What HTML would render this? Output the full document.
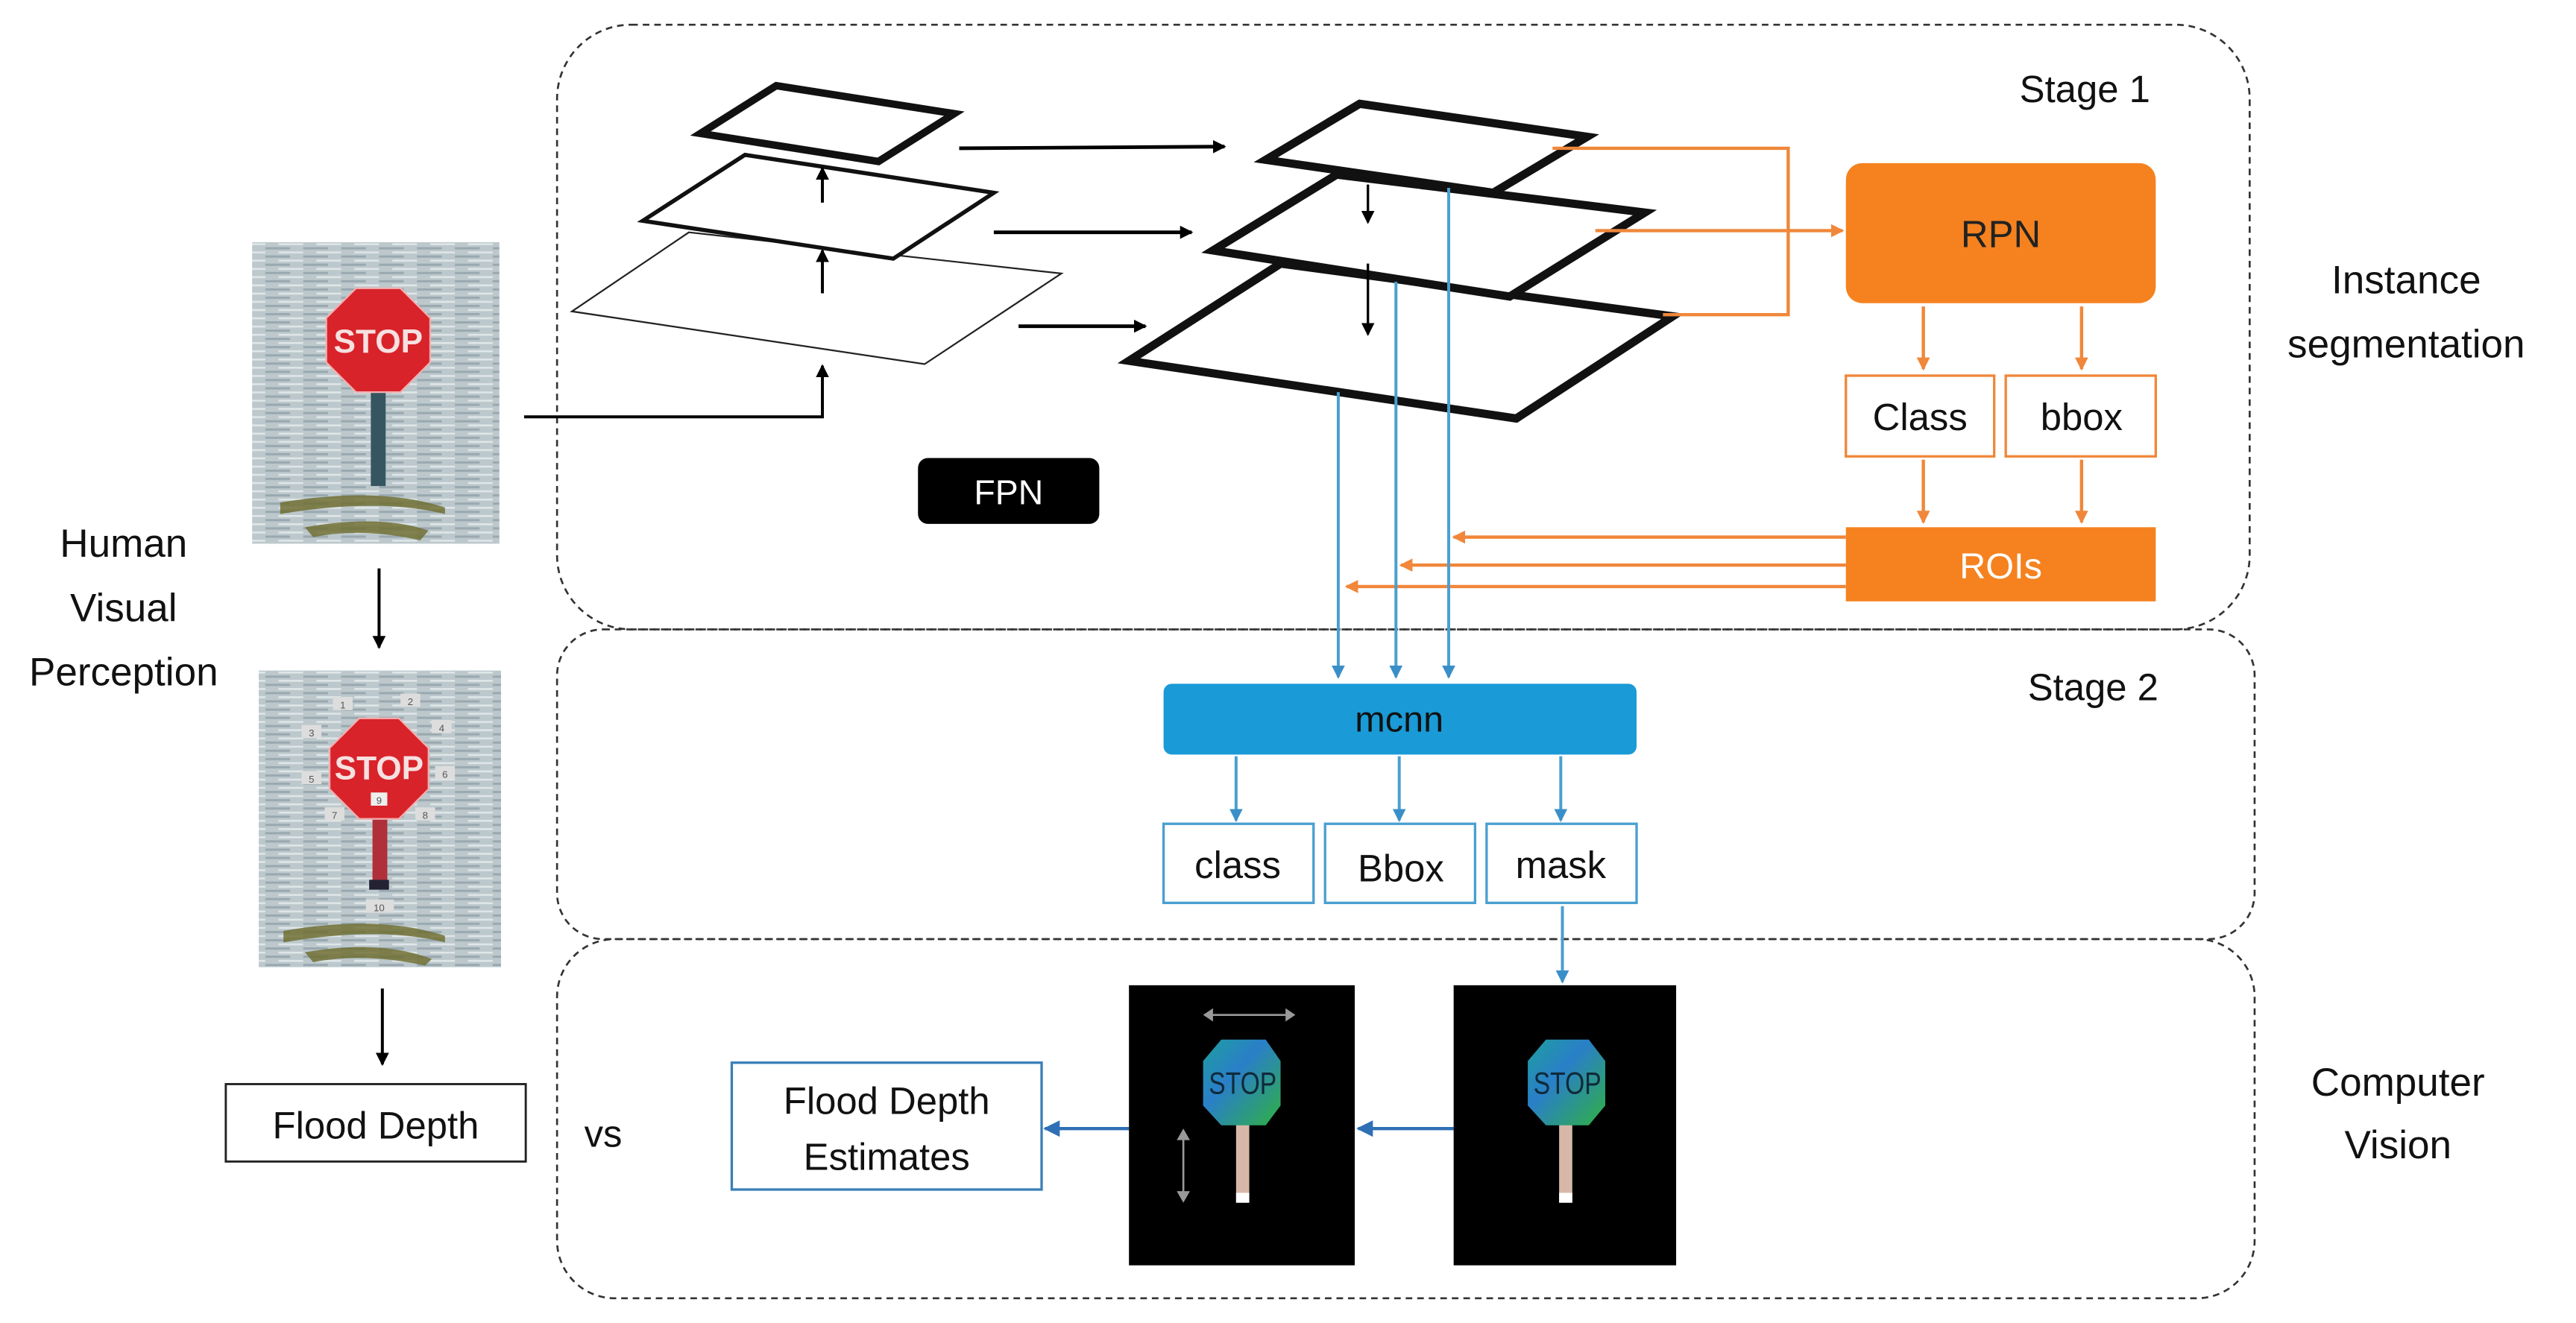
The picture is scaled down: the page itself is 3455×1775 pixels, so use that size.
<!DOCTYPE html>
<html><head><meta charset="utf-8"><style>
html,body{margin:0;padding:0;background:#fff;}
svg{display:block;}
text{font-family:"Liberation Sans",sans-serif;}
</style></head><body>
<svg width="3455" height="1775" viewBox="0 0 1563 803" preserveAspectRatio="none" xmlns="http://www.w3.org/2000/svg">
<defs>
<marker id="ak" markerWidth="8" markerHeight="8" refX="7" refY="4" orient="auto" markerUnits="userSpaceOnUse"><path d="M0,0 L8,4 L0,8 z" fill="#000"/></marker>
<marker id="ao" markerWidth="8" markerHeight="8" refX="7" refY="4" orient="auto" markerUnits="userSpaceOnUse"><path d="M0,0 L8,4 L0,8 z" fill="#f0873a"/></marker>
<marker id="ab" markerWidth="8" markerHeight="8" refX="7" refY="4" orient="auto" markerUnits="userSpaceOnUse"><path d="M0,0 L8,4 L0,8 z" fill="#3a8fc8"/></marker>
<marker id="abd" markerWidth="10" markerHeight="10" refX="9" refY="5" orient="auto" markerUnits="userSpaceOnUse"><path d="M0,0 L10,5 L0,10 z" fill="#2f6fb5"/></marker>
<pattern id="water" width="23" height="5" patternUnits="userSpaceOnUse">
<rect width="23" height="5" fill="#bcc8cc"/><rect y="0" width="15" height="1.4" fill="#9aa9b0"/><rect x="8" y="2.6" width="15" height="1.2" fill="#dfe6e8"/>
</pattern>
<linearGradient id="gs" x1="0" y1="0" x2="1" y2="1"><stop offset="0" stop-color="#1e9e9e"/><stop offset="0.4" stop-color="#2a7fc8"/><stop offset="1" stop-color="#2fb043"/></linearGradient>
</defs>

<g fill="none" stroke="#333" stroke-width="1.2" stroke-dasharray="4,3">
<rect x="338" y="15" width="1027" height="367" rx="45"/>
<rect x="338" y="382" width="1030" height="188" rx="28"/>
<rect x="338" y="570" width="1030" height="218" rx="35"/>
</g>
<text x="1265" y="62" font-size="23" text-anchor="middle" fill="#111">Stage 1</text>
<text x="1270" y="425" font-size="23" text-anchor="middle" fill="#111">Stage 2</text>
<text x="1460" y="178" font-size="24" text-anchor="middle" fill="#111">Instance</text>
<text x="1460" y="217" font-size="24" text-anchor="middle" fill="#111">segmentation</text>
<text x="1455" y="665" font-size="24" text-anchor="middle" fill="#111">Computer</text>
<text x="1455" y="703" font-size="24" text-anchor="middle" fill="#111">Vision</text>
<text x="75" y="338" font-size="24" text-anchor="middle" fill="#111">Human</text>
<text x="75" y="377" font-size="24" text-anchor="middle" fill="#111">Visual</text>
<text x="75" y="416" font-size="24" text-anchor="middle" fill="#111">Perception</text>

<rect x="153" y="147" width="150" height="183" fill="url(#water)"/>
<path d="M170,305 Q230,295 270,308 L270,312 Q230,302 170,312 z M185,320 Q230,312 260,322 L255,328 Q220,320 190,326z" fill="#6b6a2a" opacity="0.8"/>
<rect x="225" y="235" width="9" height="60" fill="#355660"/>
<polygon points="216,175 243,175 261,193 261,220 243,238 216,238 198,220 198,193" fill="#d8232a" stroke="#f2b0b0" stroke-width="1"/>
<text x="229.5" y="214" font-size="20" font-weight="bold" text-anchor="middle" fill="#f7e0e0">STOP</text>

<rect x="157" y="407" width="147" height="180" fill="url(#water)"/>
<path d="M172,565 Q230,555 270,568 L270,572 Q230,562 172,572 z M185,578 Q230,570 262,582 L258,586 Q220,578 190,584z" fill="#6b6a2a" opacity="0.8"/>
<rect x="226" y="490" width="9" height="45" fill="#b0303a"/>
<rect x="224" y="534" width="12" height="6" fill="#223"/>
<polygon points="218,436 242,436 260,454 260,479 242,497 218,497 200,479 200,454" fill="#d8232a" stroke="#f2b0b0" stroke-width="1"/>
<text x="230" y="473" font-size="20" font-weight="bold" text-anchor="middle" fill="#f7e0e0">STOP</text>
<g font-size="6" fill="#555" text-anchor="middle">
<rect x="202" y="423" width="12" height="8" fill="#ddd"/><text x="208" y="430">1</text>
<rect x="243" y="421" width="12" height="8" fill="#ddd"/><text x="249" y="428">2</text>
<rect x="183" y="440" width="12" height="8" fill="#ddd"/><text x="189" y="447">3</text>
<rect x="262" y="437" width="12" height="8" fill="#ddd"/><text x="268" y="444">4</text>
<rect x="183" y="468" width="12" height="8" fill="#ddd"/><text x="189" y="475">5</text>
<rect x="264" y="465" width="12" height="8" fill="#ddd"/><text x="270" y="472">6</text>
<rect x="197" y="490" width="12" height="8" fill="#ddd"/><text x="203" y="497">7</text>
<rect x="252" y="490" width="12" height="8" fill="#ddd"/><text x="258" y="497">8</text>
<rect x="225" y="481" width="10" height="8" fill="#eee"/><text x="230" y="488">9</text>
<rect x="222" y="546" width="17" height="8" fill="#ddd"/><text x="230" y="553">10</text>
</g>

<line x1="230" y1="345" x2="230" y2="393" stroke="#000" stroke-width="1.8" marker-end="url(#ak)"/>
<line x1="232" y1="600" x2="232" y2="646" stroke="#000" stroke-width="1.8" marker-end="url(#ak)"/>
<rect x="137" y="658" width="182" height="47" fill="#fff" stroke="#222" stroke-width="1.3"/>
<text x="228" y="691" font-size="23" text-anchor="middle" fill="#111">Flood Depth</text>
<text x="366" y="696" font-size="23" text-anchor="middle" fill="#111">vs</text>

<polygon points="418,141 644,166 561,221 347,189" fill="#fff" stroke="#222" stroke-width="1"/>
<polygon points="452,94 603,117 542,157 390,134" fill="#fff" stroke="#111" stroke-width="2.5"/>
<polygon points="471,52 579,69 533,98 425,81" fill="#fff" stroke="#111" stroke-width="4.5"/>
<g stroke="#000" stroke-width="1.8" fill="none">
<line x1="499" y1="123" x2="499" y2="102" marker-end="url(#ak)"/>
<line x1="499" y1="178" x2="499" y2="152" marker-end="url(#ak)"/>
<polyline points="318,253 499,253 499,222" marker-end="url(#ak)"/>
<line x1="582" y1="90" x2="743" y2="89" stroke-width="2.2" marker-end="url(#ak)"/>
<line x1="603" y1="141" x2="723" y2="141" stroke-width="2.2" marker-end="url(#ak)"/>
<line x1="618" y1="198" x2="695" y2="198" stroke-width="2.2" marker-end="url(#ak)"/>
</g>

<polygon points="777,160 1015,192 920,254 685,219" fill="#fff" stroke="#111" stroke-width="5"/>
<polygon points="811,106 998,129 916,180 736,152" fill="#fff" stroke="#111" stroke-width="5"/>
<polygon points="825,63 963,83 906,117 768,97" fill="#fff" stroke="#111" stroke-width="5"/>
<line x1="830" y1="112" x2="830" y2="135" stroke="#000" stroke-width="1.5" marker-end="url(#ak)"/>
<line x1="830" y1="160" x2="830" y2="203" stroke="#000" stroke-width="1.5" marker-end="url(#ak)"/>

<rect x="557" y="278" width="110" height="40" rx="6" fill="#000"/>
<text x="612" y="306" font-size="21" text-anchor="middle" fill="#fff">FPN</text>

<g stroke="#f0873a" stroke-width="2" fill="none">
<polyline points="942,90 1085,90 1085,191 1009,191"/>
<line x1="968" y1="140" x2="1085" y2="140"/>
<line x1="1085" y1="140" x2="1118" y2="140" marker-end="url(#ao)"/>
<line x1="1167" y1="186" x2="1167" y2="224" marker-end="url(#ao)"/>
<line x1="1263" y1="186" x2="1263" y2="224" marker-end="url(#ao)"/>
<line x1="1167" y1="279" x2="1167" y2="317" marker-end="url(#ao)"/>
<line x1="1263" y1="279" x2="1263" y2="317" marker-end="url(#ao)"/>
<line x1="1120" y1="326" x2="882" y2="326" marker-end="url(#ao)"/>
<line x1="1120" y1="343" x2="850" y2="343" marker-end="url(#ao)"/>
<line x1="1120" y1="356" x2="817" y2="356" marker-end="url(#ao)"/>
</g>
<rect x="1120" y="99" width="188" height="85" rx="10" fill="#f5821f"/>
<text x="1214" y="150" font-size="23" text-anchor="middle" fill="#222">RPN</text>
<rect x="1120" y="228" width="90" height="49" fill="#fff" stroke="#f0873a" stroke-width="1.5"/>
<text x="1165" y="261" font-size="23" text-anchor="middle" fill="#111">Class</text>
<rect x="1217" y="228" width="91" height="49" fill="#fff" stroke="#f0873a" stroke-width="1.5"/>
<text x="1263" y="261" font-size="23" text-anchor="middle" fill="#111">bbox</text>
<rect x="1120" y="320" width="188" height="45" fill="#f5821f"/>
<text x="1214" y="351" font-size="22" text-anchor="middle" fill="#fff">ROIs</text>

<g stroke="#4a9fd0" stroke-width="1.8" fill="none">
<line x1="812" y1="238" x2="812" y2="411" marker-end="url(#ab)"/>
<line x1="847" y1="171" x2="847" y2="411" marker-end="url(#ab)"/>
<line x1="879" y1="114" x2="879" y2="411" marker-end="url(#ab)"/>
<line x1="750" y1="459" x2="750" y2="498" marker-end="url(#ab)"/>
<line x1="849" y1="459" x2="849" y2="498" marker-end="url(#ab)"/>
<line x1="947" y1="459" x2="947" y2="498" marker-end="url(#ab)"/>
<line x1="948" y1="550" x2="948" y2="596" marker-end="url(#ab)"/>
</g>
<rect x="706" y="415" width="287" height="43" rx="5" fill="#1a9ad6"/>
<text x="849" y="444" font-size="22" text-anchor="middle" fill="#111">mcnn</text>
<g fill="#fff" stroke="#4a9fd0" stroke-width="1.5">
<rect x="706" y="500" width="91" height="48"/>
<rect x="804" y="500" width="91" height="48"/>
<rect x="902" y="500" width="91" height="48"/>
</g>
<text x="751" y="533" font-size="23" text-anchor="middle" fill="#111">class</text>
<text x="850" y="535" font-size="23" text-anchor="middle" fill="#111">Bbox</text>
<text x="947" y="533" font-size="23" text-anchor="middle" fill="#111">mask</text>

<rect x="444" y="645" width="188" height="77" fill="#fff" stroke="#3a7fb8" stroke-width="1.5"/>
<text x="538" y="676" font-size="23" text-anchor="middle" fill="#111">Flood Depth</text>
<text x="538" y="710" font-size="23" text-anchor="middle" fill="#111">Estimates</text>
<line x1="685" y1="685" x2="634" y2="685" stroke="#2f6fb5" stroke-width="2" marker-end="url(#abd)"/>
<line x1="882" y1="685" x2="824" y2="685" stroke="#2f6fb5" stroke-width="2" marker-end="url(#abd)"/>

<rect x="685" y="598" width="137" height="170" fill="#000"/>
<rect x="882" y="598" width="135" height="170" fill="#000"/>
<g stroke="#999" stroke-width="1.2" fill="#999">
<line x1="734" y1="616" x2="782" y2="616"/><path d="M730,616 l6,-4 v8z M786,616 l-6,-4 v8z" stroke="none"/>
<line x1="718" y1="690" x2="718" y2="725"/><path d="M718,685 l-4,7 h8z M718,730 l-4,-7 h8z" stroke="none"/>
</g>
<rect x="750" y="680" width="8" height="50" fill="#d7b8a8"/>
<rect x="750" y="724" width="8" height="6" fill="#fff"/>
<polygon points="741,631 768,631 777,644 777,671 768,683 741,683 730,671 730,644" fill="url(#gs)"/>
<text x="754" y="664" font-size="19" text-anchor="middle" fill="#0f2a3a" transform="translate(754 0) scale(0.8 1) translate(-754 0)">STOP</text>
<rect x="946" y="680" width="8" height="50" fill="#d7b8a8"/>
<rect x="946" y="724" width="8" height="6" fill="#fff"/>
<polygon points="938,631 964,631 974,644 974,671 964,683 938,683 927,671 927,644" fill="url(#gs)"/>
<text x="951" y="664" font-size="19" text-anchor="middle" fill="#0f2a3a" transform="translate(951 0) scale(0.8 1) translate(-951 0)">STOP</text>
</svg>
</body></html>
